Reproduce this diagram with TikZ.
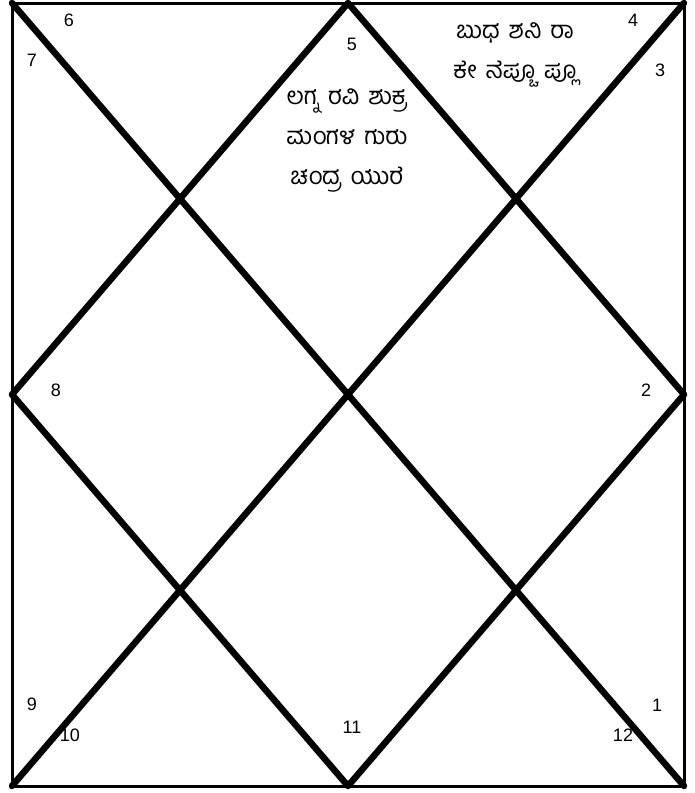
\documentclass[tikz,border=0pt]{standalone}
\usepackage{fontspec}
\setmainfont{Liberation Sans}
\newfontfamily\kanfont[Script=Kannada]{Hind Mysuru}
\newcommand\ksp{\hspace{9pt}}
\begin{document}
\begin{tikzpicture}[x=1pt,y=-1pt,
  frame/.style={draw=black,line width=3pt},
  heavy/.style={draw=black,line width=6.5pt,line cap=round,line join=round},
  num/.style={font=\fontsize{18}{18}\selectfont,inner sep=0pt},
  kan/.style={font=\kanfont\fontsize{24}{40}\selectfont,align=center,inner sep=0pt}]
\useasboundingbox[fill=white] (0,0) rectangle (695,793);
\coordinate (TL) at (12,3);
\coordinate (TR) at (684,3);
\coordinate (BL) at (12,786);
\coordinate (BR) at (684,786);
\coordinate (TM) at (348,3);
\coordinate (BM) at (348,786);
\coordinate (LM) at (12,394.5);
\coordinate (RM) at (684,394.5);
\draw[frame] (TL) rectangle (BR);
\draw[heavy] (TL) -- (BR);
\draw[heavy] (TR) -- (BL);
\draw[heavy] (TM) -- (RM) -- (BM) -- (LM) -- cycle;
% house numbers
\node[num] (n6) at (69,20) {6};
\node[num] (n7) at (32,60) {7};
\node[num] (n5) at (352,44) {5};
\node[num] (n4) at (633,20) {4};
\node[num] (n3) at (660,70) {3};
\node[num] (n8) at (56,390) {8};
\node[num] (n2) at (646,390) {2};
\node[num] (n9) at (32,704) {9};
\node[num] (n10) at (70,735) {10};
\node[num] (n11) at (352,727) {11};
\node[num] (n12) at (623,735) {12};
\node[num] (n1) at (657,705) {1};
% planets
\node[kan] (h5) at (347,140) {ಲಗ್ನ\ksp ರವಿ\ksp ಶುಕ್ರ\\ಮಂಗಳ\ksp ಗುರು\\ಚಂದ್ರ\ksp ಯುರೆ};
\node[kan] (h4) at (515,55) {ಬುಧ\ksp ಶನಿ\ksp ರಾ\\ಕೇ\ksp ನೆಪ್ಚೂ\ksp ಪ್ಲೂ};
\end{tikzpicture}
\end{document}
